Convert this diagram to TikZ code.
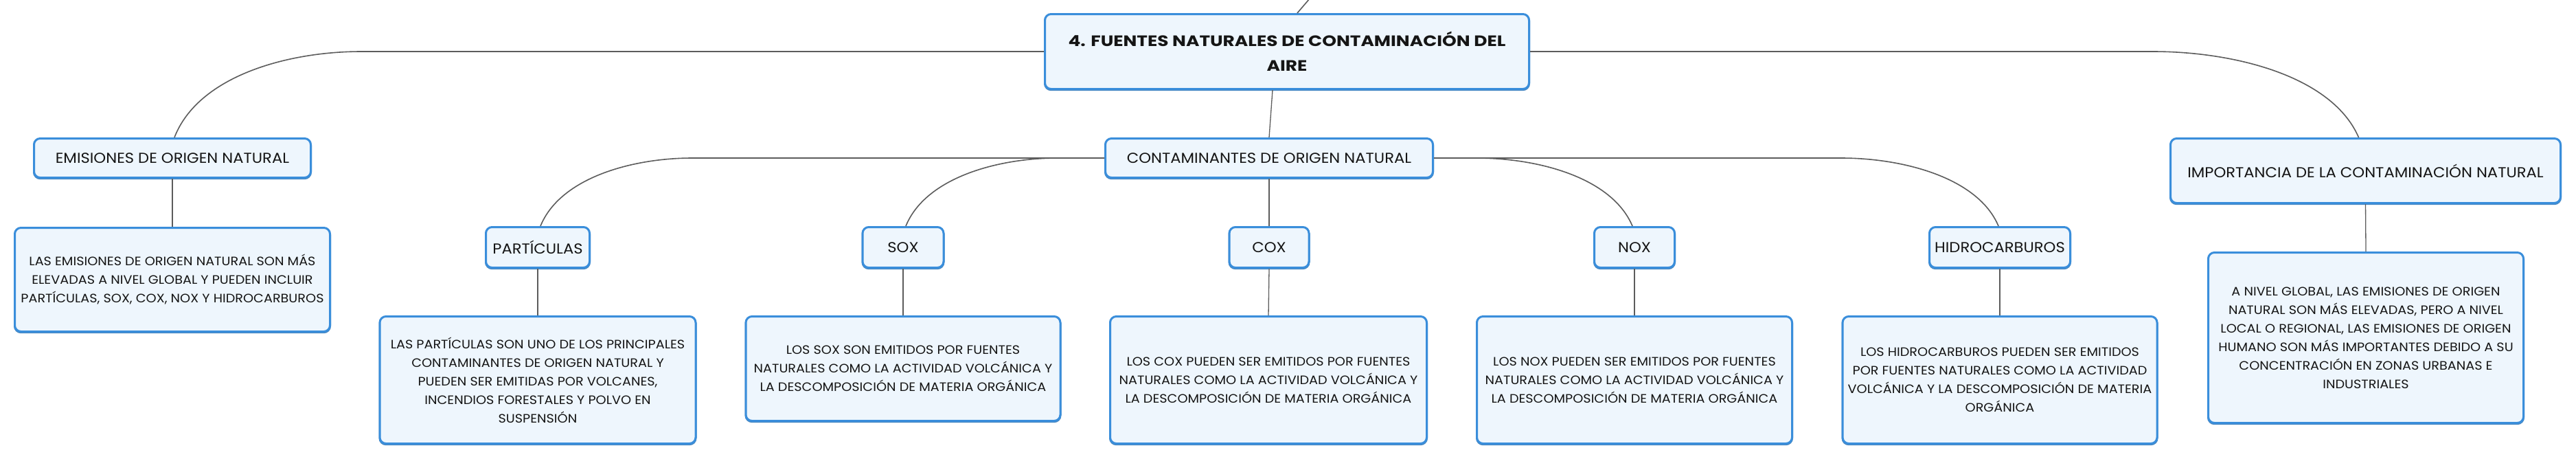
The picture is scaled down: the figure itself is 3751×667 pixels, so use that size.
\documentclass[tikz,border=0pt]{standalone}
\usepackage{fontspec}
\setmainfont{Poppins}[FakeStretch=1.08]
\newfontfamily\mainttl{Poppins}[FakeStretch=1.2]
\definecolor{boxblue}{HTML}{3A8EDB}
\definecolor{boxbot}{HTML}{4A88C0}
\definecolor{boxfill}{HTML}{EEF6FD}
\definecolor{linegray}{HTML}{5C5C5C}
\definecolor{txt}{HTML}{151515}
\begin{document}
\begin{tikzpicture}[x=1pt,y=-1pt,
  box/.style={draw=boxblue, line width=3pt, fill=boxfill, rounded corners=9pt, inner sep=0pt, align=center, text=txt,
    preaction={draw=boxbot, line width=3pt, transform canvas={yshift=-1.2pt}}},
  ttl/.style={box, font=\fontsize{21}{24}\selectfont},
  desc/.style={box, font=\fontsize{17.8}{27}\selectfont},
  conn/.style={draw=linegray, line width=1.6pt},
  sub/.style={draw=linegray, line width=1.3pt}]
\useasboundingbox[fill=white] (0,0) rectangle (3751,667);

% nodes
\node[box, font=\mainttl\bfseries\fontsize{22}{36}\selectfont, minimum width=705pt, minimum height=109pt] (main) at (1874,75)
  {4. FUENTES NATURALES DE CONTAMINACIÓN DEL\\AIRE};
\node[ttl, minimum width=403pt, minimum height=57pt] (emis) at (251,230) {EMISIONES DE ORIGEN NATURAL};
\node[desc, minimum width=459pt, minimum height=151pt] (emisd) at (251,407)
  {LAS EMISIONES DE ORIGEN NATURAL SON MÁS\\ELEVADAS A NIVEL GLOBAL Y PUEDEN INCLUIR\\PARTÍCULAS, SOX, COX, NOX Y HIDROCARBUROS};
\node[ttl, minimum width=477pt, minimum height=57pt] (cont) at (1848,230) {CONTAMINANTES DE ORIGEN NATURAL};
\node[ttl, minimum width=568pt, minimum height=94pt] (imp) at (3444.5,248.5) {IMPORTANCIA DE LA CONTAMINACIÓN NATURAL};
\node[desc, minimum width=459pt, minimum height=248pt] (impd) at (3445,491.5)
  {A NIVEL GLOBAL, LAS EMISIONES DE ORIGEN\\NATURAL SON MÁS ELEVADAS, PERO A NIVEL\\LOCAL O REGIONAL, LAS EMISIONES DE ORIGEN\\HUMANO SON MÁS IMPORTANTES DEBIDO A SU\\CONCENTRACIÓN EN ZONAS URBANAS E\\INDUSTRIALES};

\node[ttl, minimum width=151pt, minimum height=59pt] (part) at (783,360) {PARTÍCULAS};
\node[desc, minimum width=460pt, minimum height=185pt] (partd) at (783,553)
  {LAS PARTÍCULAS SON UNO DE LOS PRINCIPALES\\CONTAMINANTES DE ORIGEN NATURAL Y\\PUEDEN SER EMITIDAS POR VOLCANES,\\INCENDIOS FORESTALES Y POLVO EN\\SUSPENSIÓN};
\node[ttl, minimum width=118pt, minimum height=59pt] (sox) at (1315,360) {SOX};
\node[desc, minimum width=458pt, minimum height=152pt] (soxd) at (1315,536.5)
  {LOS SOX SON EMITIDOS POR FUENTES\\NATURALES COMO LA ACTIVIDAD VOLCÁNICA Y\\LA DESCOMPOSICIÓN DE MATERIA ORGÁNICA};
\node[ttl, minimum width=116pt, minimum height=59pt] (cox) at (1848,360) {COX};
\node[desc, minimum width=461pt, minimum height=185pt] (coxd) at (1847,553)
  {LOS COX PUEDEN SER EMITIDOS POR FUENTES\\NATURALES COMO LA ACTIVIDAD VOLCÁNICA Y\\LA DESCOMPOSICIÓN DE MATERIA ORGÁNICA};
\node[ttl, minimum width=117pt, minimum height=59pt] (nox) at (2380,360) {NOX};
\node[desc, minimum width=459pt, minimum height=185pt] (noxd) at (2380,553)
  {LOS NOX PUEDEN SER EMITIDOS POR FUENTES\\NATURALES COMO LA ACTIVIDAD VOLCÁNICA Y\\LA DESCOMPOSICIÓN DE MATERIA ORGÁNICA};
\node[ttl, minimum width=205pt, minimum height=59pt] (hid) at (2912,360) {HIDROCARBUROS};
\node[desc, minimum width=458pt, minimum height=185pt] (hidd) at (2912,553)
  {LOS HIDROCARBUROS PUEDEN SER EMITIDOS\\POR FUENTES NATURALES COMO LA ACTIVIDAD\\VOLCÁNICA Y LA DESCOMPOSICIÓN DE MATERIA\\ORGÁNICA};

% turning points of connectors
\coordinate (topend) at (1907,-2);
\coordinate (tE) at (526,75);
\coordinate (tI) at (3135,75);
\coordinate (tP) at (1008,230);
\coordinate (tS) at (1540,230);
\coordinate (tN) at (2150,230);
\coordinate (tH) at (2681,230);

% connectors
\draw[conn] ([xshift=15pt]main.north) -- (topend);
\draw[conn] (main.west) -- (tE) .. controls +(-106,0) and +(35,-90) .. ([xshift=3pt]emis.north);
\draw[conn] (main.east) -- (tI) .. controls +(117,0) and +(-39,-90) .. ([xshift=-10pt]imp.north);
\draw[sub] ([xshift=-21pt]main.south) -- (cont.north);
\draw[conn] (cont.west) -- (tP) .. controls +(-86,0) and +(29,-71) .. ([xshift=4pt]part.north);
\draw[conn] (tS) .. controls +(-86,0) and +(29,-71) .. ([xshift=4pt]sox.north);
\draw[sub] (cont.south) -- (cox.north);
\draw[conn] (cont.east) -- (tN) .. controls +(89,0) and +(-30,-71) .. ([xshift=-3pt]nox.north);
\draw[conn] (tN) -- (tH) .. controls +(89,0) and +(-30,-71) .. ([xshift=-2pt]hid.north);

\draw[sub] (emis.south) -- (emisd.north);
\draw[sub] (imp.south) -- (impd.north);
\draw[sub] (part.south) -- (partd.north);
\draw[sub] (sox.south) -- (soxd.north);
\draw[sub] (cox.south) -- (coxd.north);
\draw[sub] (nox.south) -- (noxd.north);
\draw[sub] (hid.south) -- (hidd.north);
\end{tikzpicture}
\end{document}
